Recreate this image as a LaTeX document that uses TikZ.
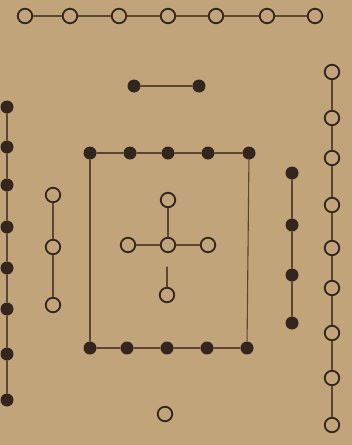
\documentclass[tikz,border=0pt]{standalone}
\usetikzlibrary{calc}
\definecolor{paper}{RGB}{194,164,122}
\definecolor{ink}{RGB}{50,38,30}
\definecolor{cord}{RGB}{92,70,50}
\tikzset{
    yang/.style={
        circle, draw=ink, fill=paper, line width=1.8pt,
        minimum size=14.5pt, inner sep=0pt
    },
    yin/.style={
        circle, fill=ink, minimum size=13pt, inner sep=0pt
    },
    tie/.style={
        draw=cord, line width=1.1pt
    }
}

\begin{document}
\begin{tikzpicture}[x=1pt,y=-1pt,line cap=round,line join=round]

% --- paper ---
    \fill[paper] (0,0) rectangle (352,445);
    \useasboundingbox (0,0) rectangle (352,445);

% top row (seven, open)
    \foreach \x [count=\i] in {25,70,119,168,216,267,315}
      \node[yang] (top\i) at (\x,16) {};
    \foreach \i [remember=\i as \j (initially 1)] in {2,...,7}
      \draw[tie] (top\j) -- (top\i);

% upper pair (two, dark)
    \node[yin] (two1) at (134,86) {};
    \node[yin] (two2) at (199,86) {};
    \draw[tie] (two1) -- (two2);

% left edge (eight, dark)
    \foreach \y [count=\i] in {107,147,185,227,268,309,354,400}
      \node[yin] (lft\i) at (7,\y) {};
    \foreach \i [remember=\i as \j (initially 1)] in {2,...,8}
      \draw[tie] (lft\j) -- (lft\i);

% inner left (three, open)
    \foreach \y [count=\i] in {195,247,305}
      \node[yang] (thr\i) at (53,\y) {};
    \draw[tie] (thr1) -- (thr2);
    \draw[tie] (thr2) -- (thr3);

% square of ten (dark)
    \foreach \x [count=\i] in {90,130,168,208,249}
      \node[yin] (sqT\i) at (\x,153) {};
    \foreach \x [count=\i] in {90,127,167,207,247}
      \node[yin] (sqB\i) at (\x,348) {};
    \foreach \i [remember=\i as \j (initially 1)] in {2,...,5} {
      \draw[tie] (sqT\j) -- (sqT\i);
      \draw[tie] (sqB\j) -- (sqB\i);
    }
    \draw[tie] (sqT1) -- (sqB1);
    \draw[tie] (sqT5) -- (sqB5);

% centre five (open)
    \node[yang] (mid)  at (168,245) {};
    \node[yang] (midN) at (168,200) {};
    \node[yang] (midW) at (128,245) {};
    \node[yang] (midE) at (208,245) {};
    \node[yang] (midS) at (167,295) {};
    \coordinate (stub) at (167,267);
    \draw[tie] (midN) -- (mid);
    \draw[tie] (midW) -- (mid);
    \draw[tie] (mid) -- (midE);
    \draw[tie] (stub) -- (midS);

% inner right (four, dark)
    \foreach \y [count=\i] in {173,225,275,323}
      \node[yin] (fou\i) at (292,\y) {};
    \foreach \i [remember=\i as \j (initially 1)] in {2,...,4}
      \draw[tie] (fou\j) -- (fou\i);

% right edge (nine, open)
    \foreach \y [count=\i] in {72,118,158,205,248,288,333,378,425}
      \node[yang] (rgt\i) at (332,\y) {};
    \foreach \i [remember=\i as \j (initially 1)] in {2,...,9}
      \draw[tie] (rgt\j) -- (rgt\i);

% bottom single (open)
    \node[yang] (one) at (165,414) {};

  \end{tikzpicture}
\end{document}
